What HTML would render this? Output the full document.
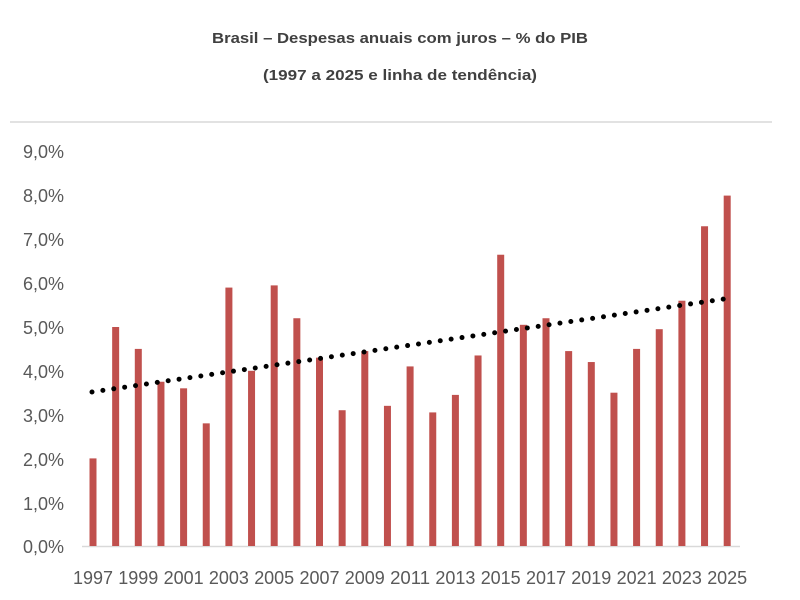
<!DOCTYPE html>
<html><head><style>body{margin:0;background:#fff}svg{display:block}</style></head><body>
<svg width="800" height="600" xmlns="http://www.w3.org/2000/svg" font-family="Liberation Sans, sans-serif">
<text x="400" y="43" text-anchor="middle" font-size="15" font-weight="bold" fill="#404040" textLength="376" lengthAdjust="spacingAndGlyphs">Brasil – Despesas anuais com juros – % do PIB</text>
<text x="400" y="80" text-anchor="middle" font-size="15" font-weight="bold" fill="#404040" textLength="274" lengthAdjust="spacingAndGlyphs">(1997 a 2025 e linha de tendência)</text>
<line x1="10" y1="122" x2="772" y2="122" stroke="#d9d9d9" stroke-width="1.5"/>
<g font-size="18" fill="#595959" text-anchor="end">
<text x="64" y="158">9,0%</text><text x="64" y="202">8,0%</text><text x="64" y="246">7,0%</text><text x="64" y="290">6,0%</text><text x="64" y="334">5,0%</text><text x="64" y="378">4,0%</text><text x="64" y="422">3,0%</text><text x="64" y="466">2,0%</text><text x="64" y="510">1,0%</text><text x="64" y="553">0,0%</text>
</g>
<line x1="82" y1="546.5" x2="740" y2="546.5" stroke="#d9d9d9" stroke-width="1.5"/>
<g fill="#c0504d" id="bars"></g>
<line x1="92" y1="392" x2="724" y2="299" stroke="#000" stroke-width="5" stroke-linecap="round" stroke-dasharray="0 11"/>
<g font-size="18" fill="#595959" text-anchor="middle" id="labels"></g>
<script>
var v=[2.0,5.0,4.5,3.75,3.6,2.8,5.9,4.0,5.95,5.2,4.3,3.1,4.45,3.2,4.1,3.05,3.45,4.35,6.65,5.05,5.2,4.45,4.2,3.5,4.5,4.95,5.6,7.3,8.0];
var b=document.getElementById('bars'),l=document.getElementById('labels'),ns='http://www.w3.org/2000/svg';
v.forEach(function(d,i){var cx=93+i*22.65,h=d*43.8;var r=document.createElementNS(ns,'rect');r.setAttribute('x',cx-3.5);r.setAttribute('y',546-h);r.setAttribute('width',7);r.setAttribute('height',h);b.appendChild(r);
if(i%2==0){var t=document.createElementNS(ns,'text');t.setAttribute('x',cx);t.setAttribute('y',584);t.setAttribute('textLength',40);t.setAttribute('lengthAdjust','spacingAndGlyphs');t.textContent=1997+i;l.appendChild(t);}});
</script>
</svg>
</body></html>
